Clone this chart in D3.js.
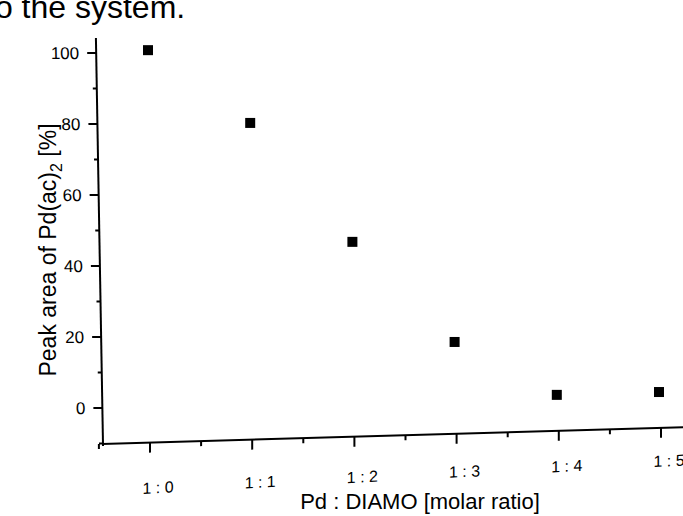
<!DOCTYPE html>
<html>
<head>
<meta charset="utf-8">
<script src="https://cdn.jsdelivr.net/npm/d3@7"></script>
<style>
  body { margin: 0; background: #fff; }
  svg { display: block; font-family: "Liberation Sans", Arial, sans-serif; }
  .axis line { stroke: #000; stroke-width: 2; }
  text { fill: #000; }
</style>
</head>
<body>
<svg id="chart" width="683" height="516"></svg>
<script>
// data
const ratioLabels = ["1 : 0", "1 : 1", "1 : 2", "1 : 3", "1 : 4", "1 : 5"];
const peakArea = [100.8, 80.3, 46.8, 18.6, 3.7, 4.5];
const yTicks = [0, 20, 40, 60, 80, 100];
const yMinorTicks = [-10, 10, 30, 50, 70, 90];

const svg = d3.select("#chart");

// scales
const x = d3.scaleLinear().domain([0, 5]).range([150, 661]);
const y = d3.scaleLinear().domain([0, 100]).range([408, 53]);

const xLeft = 102, xRight = 700;
const yBottom = 444, yTop = 38;

// leftover line of the page above
svg.append("text")
  .attr("x", -14)
  .attr("y", 18)
  .attr("font-size", 32)
  .text("to the system.");

// x axis (scan is slightly tilted)
const xg = svg.append("g")
  .attr("class", "axis")
  .attr("transform", `translate(${xLeft},${yBottom}) skewY(-1.66) translate(${-xLeft},0)`);

xg.append("line")
  .attr("x1", xLeft).attr("x2", xRight)
  .attr("y1", 0).attr("y2", 0);

xg.selectAll(".xmajor")
  .data(ratioLabels)
  .join("line")
  .attr("class", "xmajor")
  .attr("x1", (d, i) => x(i)).attr("x2", (d, i) => x(i))
  .attr("y1", 0).attr("y2", 10);

xg.selectAll(".xminor")
  .data(d3.range(-0.5, 5.5, 1))
  .join("line")
  .attr("class", "xminor")
  .attr("x1", d => x(d)).attr("x2", d => x(d))
  .attr("y1", 0).attr("y2", 5);

// tick labels sit on a slightly steeper slant than the axis
const xl = svg.append("g")
  .attr("transform", `translate(${xLeft},${yBottom}) skewY(-3) translate(${-xLeft},0)`);

xl.selectAll("text")
  .data(ratioLabels)
  .join("text")
  .attr("x", (d, i) => x(i) + 8)
  .attr("y", 52)
  .attr("text-anchor", "middle")
  .attr("font-size", 16)
  .text(d => d);

// y axis
const yg = svg.append("g")
  .attr("class", "axis")
  .attr("transform", `translate(103,${yBottom}) skewX(1) translate(0,${-yBottom})`);

yg.append("line")
  .attr("x1", 0).attr("x2", 0)
  .attr("y1", yTop).attr("y2", yBottom + 2);

yg.selectAll(".ymajor")
  .data(yTicks)
  .join("line")
  .attr("class", "ymajor")
  .attr("x1", -9).attr("x2", 0)
  .attr("y1", d => y(d)).attr("y2", d => y(d));

yg.selectAll(".yminor")
  .data(yMinorTicks)
  .join("line")
  .attr("class", "yminor")
  .attr("x1", -4).attr("x2", 0)
  .attr("y1", d => y(d)).attr("y2", d => y(d));

yg.selectAll("text")
  .data(yTicks)
  .join("text")
  .attr("x", -17)
  .attr("y", d => y(d))
  .attr("dy", "0.35em")
  .attr("text-anchor", "end")
  .attr("font-size", 17)
  .text(d => d);

// axis titles
const yTitle = svg.append("text")
  .attr("transform", "translate(56,250) rotate(-90)")
  .attr("text-anchor", "middle")
  .attr("font-size", 23);
yTitle.append("tspan").text("Peak area  of Pd(ac)");
yTitle.append("tspan").attr("font-size", 16).attr("dy", 6).text("2");
yTitle.append("tspan").attr("dy", -6).text(" [%]");

svg.append("text")
  .attr("x", 420)
  .attr("y", 509)
  .attr("text-anchor", "middle")
  .attr("font-size", 22)
  .text("Pd : DIAMO [molar ratio]");

// points
const sz = 10;
svg.append("g")
  .selectAll("rect")
  .data(peakArea)
  .join("rect")
  .attr("x", (d, i) => x(i) - sz / 2 - 2)
  .attr("y", d => y(d) - sz / 2)
  .attr("width", sz)
  .attr("height", sz)
  .attr("fill", "#000");
</script>
</body>
</html>
